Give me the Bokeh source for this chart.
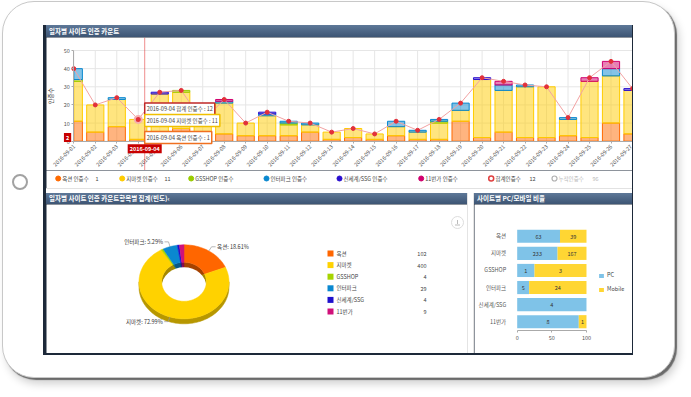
import math
from bokeh.plotting import figure
from bokeh.layouts import row, column
from bokeh.models import (FixedTicker, Span, Label, Div, Legend, LegendItem,
                          FactorRange, Range1d, CustomJSTickFormatter)
from bokeh.core.properties import value
from bokeh.embed import file_html
from bokeh.resources import INLINE

FONT = "Noto Sans CJK KR"

# ---------------- data ----------------
dates = ["2016-09-01", "2016-09-02", "2016-09-03", "2016-09-04", "2016-09-05",
         "2016-09-06", "2016-09-07", "2016-09-08", "2016-09-09", "2016-09-10",
         "2016-09-11", "2016-09-12", "2016-09-13", "2016-09-14", "2016-09-15",
         "2016-09-16", "2016-09-17", "2016-09-18", "2016-09-19", "2016-09-20",
         "2016-09-21", "2016-09-22", "2016-09-23", "2016-09-24", "2016-09-25",
         "2016-09-26", "2016-09-27"]
site_names = ["옥션", "지마켓", "GSSHOP", "인터파크", "신세계/SSG", "11번가"]
auction = [11, 5, 8, 1, 1, 7, 1, 4, 3, 3, 3, 5, 1, 2, 1, 3, 1, 1, 11, 2, 5, 2, 2, 3, 2, 10, 4]
gmarket = [22, 15, 15, 11, 25, 20, 10, 17, 7, 11, 6, 4, 4, 5, 3, 5, 4, 9, 6, 32, 23, 28, 28, 9, 31, 26, 24]
gsshop = [1, 0, 0, 0, 0, 1, 0, 0, 0, 0, 1, 0, 0, 0, 0, 0, 0, 1, 0, 0, 0, 0, 0, 0, 0, 0, 0]
interpark = [6, 0, 1, 0, 0, 0, 0, 1, 0, 1, 1, 1, 0, 0, 0, 3, 1, 1, 4, 0, 3, 1, 0, 1, 0, 4, 0]
ssg = [0, 0, 0, 0, 1, 0, 0, 0, 0, 1, 0, 0, 0, 0, 0, 0, 0, 0, 0, 1, 0, 0, 0, 0, 0, 0, 1]
st11 = [0, 0, 0, 0, 0, 0, 0, 1, 0, 0, 0, 0, 0, 0, 0, 0, 0, 0, 0, 0, 2, 0, 0, 0, 2, 4, 0]
site_counts = [102, 400, 4, 29, 4, 9]
pc_counts = [63, 233, 1, 5, 4, 8]
mobile_counts = [39, 167, 3, 24, 0, 1]
y_ticks = [0, 10, 20, 30, 40, 50]
pct_ticks = [0, 50, 100]
hover_index = 3          # 2016-09-04
crosshair_x = 3.3
crosshair_y = 2

daily = [auction, gmarket, gsshop, interpark, ssg, st11]
totals = [sum(v) for v in zip(*daily)]
cumulative = sum(totals[:hover_index + 1])

SERIES_COLORS = ["#ff6a00", "#ffcc00", "#99cc00", "#0a88d0", "#2a0fd0", "#d0006e"]
PIE_COLORS = ["#ff6600", "#ffd200", "#a6d400", "#0a88d0", "#1f10cc", "#d0107a"]
TXT = "#444444"


def text_kw(size="5.5px", color=TXT, **kw):
    d = dict(text_font=value(FONT), text_font_size=size, text_color=color)
    d.update(kw)
    return d


def label_kw(size="5.5px", color=TXT, **kw):
    d = dict(text_font=FONT, text_font_size=size, text_color=color)
    d.update(kw)
    return d


def style_axis(ax):
    ax.major_label_text_font = FONT
    ax.major_label_text_font_size = "5.5px"
    ax.major_label_text_color = "#555555"
    ax.minor_tick_line_color = None


# ---------------- top chart ----------------
# The frame fills the whole figure; the axes are pinned at x=0 / y=0 so that the
# hover boxes drawn below and left of the axes stay visible.
xs = list(range(len(dates)))
XMAX = len(dates) - 1
top = figure(width=586, height=133, x_range=Range1d(-1.27, XMAX),
             y_range=Range1d(-16.15, 57.17),
             toolbar_location=None, output_backend="svg", min_border=0,
             background_fill_color="white", border_fill_color="white", outline_line_color=None)
top.grid.visible = False
top.segment(x0=xs, y0=[y_ticks[0]] * len(xs), x1=xs, y1=[y_ticks[-1]] * len(xs),
            line_color="#e6e6e6", line_width=1)
top.segment(x0=[0] * len(y_ticks), y0=y_ticks, x1=[XMAX] * len(y_ticks), y1=y_ticks,
            line_color="#e6e6e6", line_width=1)

W = 0.8
base = [0] * len(dates)
for vals, col in zip(daily, SERIES_COLORS):
    bl_, br_, bb, bt = [], [], [], []
    for i, v in enumerate(vals):
        if v > 0:
            bl_.append(max(i - W / 2, 0))
            br_.append(min(i + W / 2, XMAX))
            bb.append(base[i])
            bt.append(base[i] + v)
        base[i] += v
    top.quad(left=bl_, right=br_, bottom=bb, top=bt, fill_color=col, fill_alpha=0.5,
             line_color=col, line_width=1)

top.line(xs, totals, line_color="#f2a2a2", line_width=1)
top.scatter(xs, totals, size=4, fill_color="#e2303a", line_color="#e2303a")
top.add_layout(Span(location=crosshair_x, dimension="height", line_color="#e03030",
                    line_alpha=0.55, line_width=1))
top.scatter([hover_index], [totals[hover_index]], size=7, fill_color="#e2303a",
            line_color="#f6b0b0", line_width=2)

xa = top.xaxis[0]
xa.ticker = FixedTicker(ticks=xs)
xa.formatter = CustomJSTickFormatter(args=dict(labels=dates),
                                     code="const i = Math.round(tick); return labels[i] || '';")
xa.major_label_orientation = math.pi / 4
xa.fixed_location = 0
xa.bounds = (0, XMAX)
ya = top.yaxis[0]
ya.ticker = FixedTicker(ticks=y_ticks)
ya.fixed_location = 0
ya.bounds = (y_ticks[0], y_ticks[-1])
ya.axis_label = "인증수"
ya.axis_label_text_font = FONT
ya.axis_label_text_font_size = "6px"
ya.axis_label_text_font_style = "normal"
ya.axis_label_text_color = TXT
ya.axis_label_standoff = 5
for ax in (xa, ya):
    style_axis(ax)
    ax.major_label_standoff = 2
    ax.axis_line_color = "#aaaaaa"
    ax.major_tick_line_color = "#aaaaaa"
    ax.major_tick_out = 2
    ax.major_tick_in = 0

h = hover_index
tips = [
    (f"{dates[h]} 합계 인증수 : {totals[h]}", 17.7, "#c02828"),
    (f"{dates[h]} 지마켓 인증수 : {gmarket[h]}", 11.4, "#f0c000"),
    (f"{dates[h]} 옥션 인증수 : {auction[h]}", 2.0, "#f07020"),
]
for txt, yy, bc in tips:
    top.add_layout(Label(x=crosshair_x, y=yy, text=txt, text_baseline="middle",
                         background_fill_color="white", border_line_color=bc,
                         border_line_width=1.5, padding=2, **label_kw()))
top.add_layout(Label(x=crosshair_x, y=-4.1, text=dates[h], text_align="center",
                     text_baseline="middle", background_fill_color="#c80000",
                     padding=2, **label_kw(color="white", text_font_style="bold")))
top.add_layout(Label(x=-0.29, y=crosshair_y, text=str(crosshair_y), text_align="center",
                     text_baseline="middle", background_fill_color="#c80000",
                     padding=2, **label_kw(color="white", text_font_style="bold")))

# ---------------- top legend strip ----------------
leg = figure(width=586, height=18, x_range=Range1d(46, 632), y_range=Range1d(0, 18),
             x_axis_type=None, y_axis_type=None, toolbar_location=None, output_backend="svg",
             min_border=0, outline_line_color=None, background_fill_color="white",
             border_fill_color="white")
leg.grid.visible = False
dot_x = [57.7, 121.7, 190.7, 266, 339, 420.7]
leg.scatter(dot_x, [10] * 6, size=5, fill_color=SERIES_COLORS, line_color=SERIES_COLORS)
leg.text(x=[d + 4 for d in dot_x], y=[10] * 6, text=[f"{n} 인증수" for n in site_names],
         text_baseline="middle", **text_kw())
leg.text(x=[95, 164], y=[10, 10], text=[str(auction[h]), str(gmarket[h])],
         text_baseline="middle", **text_kw())
leg.scatter([490.7], [10], size=5, fill_color="white", line_color="#e04040", line_width=1.5)
leg.text(x=[495], y=[10], text=["합계인증수"], text_baseline="middle", **text_kw())
leg.text(x=[529], y=[10], text=[str(totals[h])], text_baseline="middle", **text_kw())
leg.scatter([554], [10], size=5, fill_color="white", line_color="#b0b0b0", line_width=1.2)
leg.text(x=[558], y=[10], text=["누적인증수"], text_baseline="middle", **text_kw(color="#b8b8b8"))
leg.text(x=[592], y=[10], text=[str(cumulative)], text_baseline="middle", **text_kw(color="#b8b8b8"))

# ---------------- donut ----------------
dn = figure(width=421, height=149, x_range=Range1d(0, 421), y_range=Range1d(0, 149),
            x_axis_type=None, y_axis_type=None, toolbar_location=None, output_backend="svg",
            min_border=0, outline_line_color=None, background_fill_color="white",
            border_fill_color="white")
dn.grid.visible = False
CX, CY, RX, RY, IRX, IRY, DEPTH = 137.5, 71.7, 45.0, 37.0, 22.3, 19.5, 5.0


def darker(c, f=0.72):
    r, g, b = int(c[1:3], 16), int(c[3:5], 16), int(c[5:7], 16)
    return "#%02x%02x%02x" % (int(r * f), int(g * f), int(b * f))


def arc(rx, ry, a0, a1, dy=0.0):
    n = max(4, int(abs(a0 - a1) / 2) + 2)
    pts = []
    for k in range(n):
        a = math.radians(a0 + (a1 - a0) * k / (n - 1))
        pts.append((CX + rx * math.cos(a), CY + ry * math.sin(a) + dy))
    return pts


total_sites = sum(site_counts)
angles = []
c = 0.0
for v in site_counts:
    a0 = 90 - 360 * c / total_sites
    c += v
    a1 = 90 - 360 * c / total_sites
    angles.append((a0, a1))

wall_x, wall_y, wall_c = [], [], []
for (a0, a1), col in zip(angles, PIE_COLORS):
    for k in (-360, 0, 360):
        lo, hi = max(a1, -180 + k), min(a0, k)
        if hi > lo:
            p = arc(RX, RY, hi, lo)
            q = [(x, y - DEPTH) for x, y in reversed(p)]
            wall_x.append([x for x, _ in p + q])
            wall_y.append([y for _, y in p + q])
            wall_c.append(darker(col))
dn.patches(wall_x, wall_y, fill_color=wall_c, line_color=wall_c, line_width=0.5)

in_x, in_y, in_c = [], [], []
for (a0, a1), col in zip(angles, PIE_COLORS):
    p = [(CX, CY)] + arc(IRX, IRY, a0, a1)
    in_x.append([x for x, _ in p])
    in_y.append([y for _, y in p])
    in_c.append(darker(col, 0.65))
dn.patches(in_x, in_y, fill_color=in_c, line_color=in_c, line_width=0.5)
dn.ellipse(x=[CX], y=[CY - DEPTH], width=2 * IRX, height=2 * IRY, fill_color="white",
           line_color=None)

top_x, top_y = [], []
for (a0, a1) in angles:
    p = arc(RX, RY, a0, a1) + arc(IRX, IRY, a1, a0)
    top_x.append([x for x, _ in p])
    top_y.append([y for _, y in p])
dn.patches(top_x, top_y, fill_color=PIE_COLORS, line_color=PIE_COLORS, line_width=0.5)

# slice labels
for (a0, a1), name, v in zip(angles, site_names, site_counts):
    frac = v / total_sites
    if frac < 0.05:
        continue
    am = math.radians((a0 + a1) / 2)
    ax_, ay_ = CX + RX * math.cos(am), CY + RY * math.sin(am)
    ex, ey = ax_ + 5 * math.cos(am), ay_ + 5 * math.sin(am)
    sgn = 1 if math.cos(am) >= 0 else -1
    hx = ex + 4 * sgn
    dn.line([ax_, ex, hx], [ay_, ey, ey], line_color="#999999", line_width=0.7)
    dn.text(x=[hx + sgn * 1.5], y=[ey], text=[f"{name}: {frac * 100:.2f}%"],
            text_align="left" if sgn > 0 else "right", text_baseline="middle",
            **text_kw(color="#333333"))

# legend
ly = [100 - 11.6 * i for i in range(len(site_names))]
dn.scatter([284] * len(site_names), ly, marker="square", size=6, fill_color=PIE_COLORS,
           line_color=None)
dn.text(x=[290] * len(site_names), y=ly, text=site_names, text_baseline="middle", **text_kw())
dn.text(x=[380] * len(site_names), y=ly, text=[str(v) for v in site_counts],
        text_align="right", text_baseline="middle", **text_kw())
# download icon
dn.scatter([411], [131], size=12, fill_color="white", line_color="#dddddd", line_width=1)
dn.segment(x0=[411], y0=[133.5], x1=[411], y1=[129.5], line_color="#aaaaaa", line_width=0.8)
dn.segment(x0=[408.5], y0=[128.5], x1=[413.5], y1=[128.5], line_color="#aaaaaa", line_width=0.8)

# ---------------- PC / Mobile ----------------
# frame covers the whole figure; axes pinned at x=0 and at the bottom of the bars
pc_pct = [p / (p + m) * 100 for p, m in zip(pc_counts, mobile_counts)]
hb = figure(width=158, height=149,
            y_range=FactorRange(factors=list(reversed(site_names)),
                                range_padding=1.36, range_padding_units="absolute"),
            x_range=Range1d(-61.6, 166.4), toolbar_location=None,
            output_backend="svg", min_border=0, outline_line_color=None,
            background_fill_color="white", border_fill_color="white")
r_pc = hb.hbar(y=site_names, left=[0] * 6, right=pc_pct, height=0.77,
               fill_color="#7fc3e8", line_color=None)
r_mo = hb.hbar(y=site_names, left=pc_pct, right=[100] * 6, height=0.77,
               fill_color="#ffd633", line_color=None)
hb.text(x=[v / 2 for v in pc_pct], y=site_names, text=[str(v) for v in pc_counts],
        text_align="center", text_baseline="middle", **text_kw(color="#333333"))
mo_items = [(n, (p + 100) / 2, m) for n, p, m in zip(site_names, pc_pct, mobile_counts) if m > 0]
hb.text(x=[t[1] for t in mo_items], y=[t[0] for t in mo_items], text=[str(t[2]) for t in mo_items],
        text_align="center", text_baseline="middle", **text_kw(color="#333333"))
hb.grid.visible = False
hx_ = hb.xaxis[0]
hx_.ticker = FixedTicker(ticks=pct_ticks)
hx_.fixed_location = 0
hx_.bounds = (pct_ticks[0], pct_ticks[-1])
hy_ = hb.yaxis[0]
hy_.fixed_location = 0
for ax in (hx_, hy_):
    style_axis(ax)
hx_.axis_line_color = "#aaaaaa"
hx_.major_tick_line_color = "#aaaaaa"
hx_.major_tick_out = 2
hx_.major_tick_in = 0
hx_.major_label_standoff = 3
hy_.axis_line_color = None
hy_.major_tick_line_color = None
hy_.major_label_standoff = 5
lgd = Legend(items=[LegendItem(label="PC", renderers=[r_pc]),
                    LegendItem(label="Mobile", renderers=[r_mo])],
             location=(124, 60), glyph_width=6, glyph_height=5, label_height=6,
             spacing=6, padding=0, margin=0, label_standoff=3,
             label_text_font=FONT, label_text_font_size="5.5px", label_text_color=TXT,
             background_fill_alpha=0, border_line_alpha=0)
hb.add_layout(lgd)

# ---------------- page layout ----------------
HDR = {"background": "linear-gradient(#5e7898, #3d5574)", "color": "white",
       "font-family": FONT, "font-size": "6.5px", "font-weight": "bold",
       "line-height": "12px", "overflow": "hidden", "white-space": "nowrap"}

hdr_top = Div(text='<div style="padding-left:3px">일자별 사이트 인증 카운트</div>',
              width=586, height=12, margin=0, styles=HDR)
gap1 = Div(text="", width=586, height=5, margin=0,
           styles={"background": "white", "border-top": "1px solid #e2e2e2",
                   "box-sizing": "border-box"})
hdr_bl = Div(text='<div style="display:flex;justify-content:space-between;padding:0 4px 0 3px">'
                  '<span>일자별 사이트 인증 카운트항목별 집계(빈도)</span><span>‹</span></div>',
             width=421, height=11, margin=0, styles=dict(HDR, **{"line-height": "11px"}))
hdr_br = Div(text='<div style="padding-left:3px">사이트별 PC/모바일 비율</div>',
             width=158, height=11, margin=0, styles=dict(HDR, **{"line-height": "11px"}))
gap2 = Div(text="", width=7, height=160, margin=0,
           styles={"background": "white", "border-left": "1px solid #e4e4e4",
                   "border-right": "1px solid #e4e4e4", "box-sizing": "border-box"})

bl = column(hdr_bl, dn, width=421, height=160, margin=0, spacing=0)
br = column(hdr_br, hb, width=158, height=160, margin=0, spacing=0)
bottom_row = row(bl, gap2, br, width=586, height=160, margin=0, spacing=0)

screen_children = [hdr_top, top, leg, gap1, bottom_row]
screen = column(*screen_children, width=590, height=330, margin=(23, 0, 0, 0), spacing=0,
                styles={"background": "#1d2939", "padding-left": "3px",
                        "box-sizing": "border-box"})

home = Div(text='<div style="position:relative;left:9px;top:172px;width:16px;height:16px;'
                'border:2.5px solid #a2a2a2;border-radius:50%;"></div>',
           width=40, height=370, margin=0)

tablet = row(home, screen, width=673, height=377, spacing=0,
             styles={"background": "white", "border": "1px solid #c8c8c8",
                     "border-radius": "32px",
                     "box-shadow": "2px 2px 1px rgba(70,70,70,0.75), 4px 6px 9px rgba(0,0,0,0.18)",
                     "margin-left": "2px", "margin-top": "1px", "box-sizing": "border-box"})

open("out.html", "w").write(file_html(tablet, INLINE))
